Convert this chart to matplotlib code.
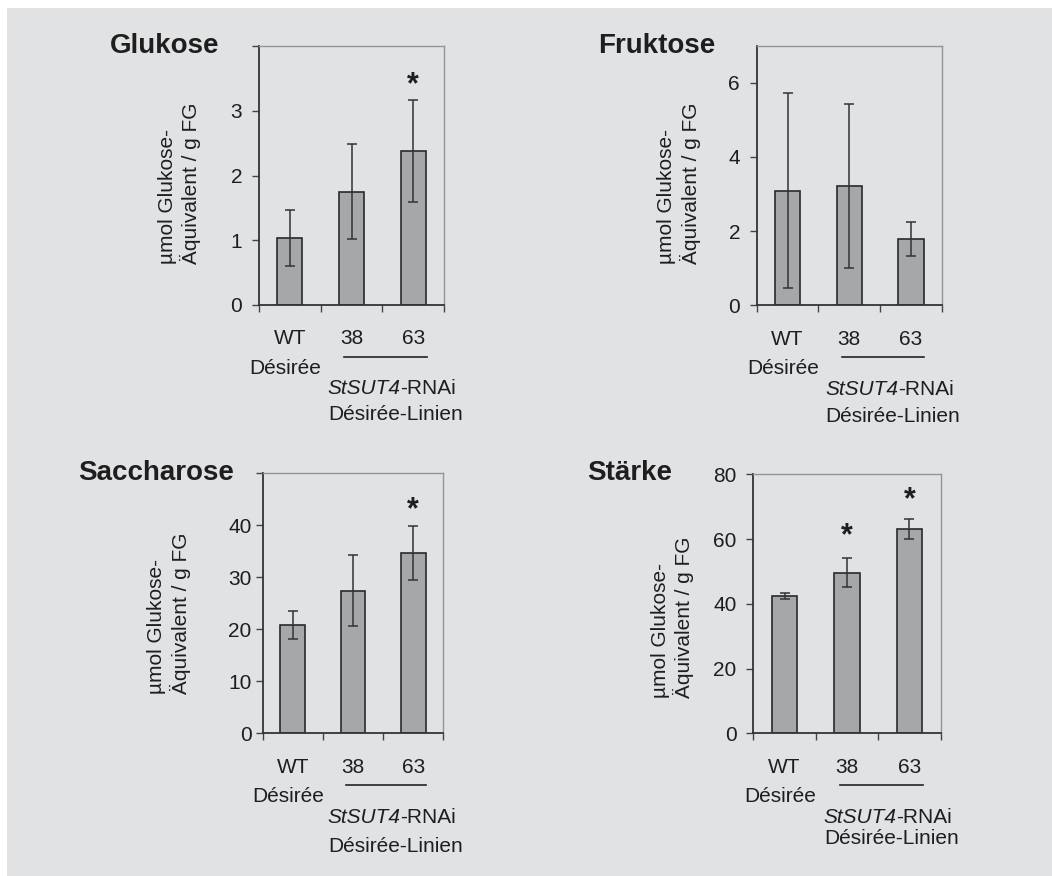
import matplotlib
matplotlib.use('Agg')
import matplotlib.pyplot as plt
from matplotlib.patches import Rectangle
from matplotlib.transforms import offset_copy
import numpy as np

plt.rcParams['font.family'] = ['Liberation Sans', 'DejaVu Sans']

W, H = 1052, 876

categories = ['WT', '38', '63']

glukose_mean = [1.04, 1.75, 2.38]
glukose_err = [0.43, 0.73, 0.79]
glukose_stars = [None, None, 3.5]

fruktose_mean = [3.09, 3.22, 1.78]
fruktose_err = [2.63, 2.22, 0.46]
fruktose_stars = [None, None, None]

saccharose_mean = [20.8, 27.4, 34.7]
saccharose_err = [2.7, 6.85, 5.15]
saccharose_stars = [None, None, 44.2]

staerke_mean = [42.4, 49.6, 63.1]
staerke_err = [1.0, 4.45, 2.95]
staerke_stars = [None, 63.0, 74.1]

ylabel = 'µmol Glukose-\nÄquivalent / g FG'

BG = '#e1e2e4'
BAR = '#a5a7a9'
DARK = '#2a2a2a'
TXT = '#1e1e1e'


def panel(fig, box, title, title_pos, ylab_pos, mean, err, stars,
          ymax, ticks, shown, pad, linien_off):
    l, t, r, b = box
    ax = fig.add_axes([l / W, 1 - b / H, (r - l) / W, (b - t) / H])
    ax.set_facecolor('none')
    x = np.arange(len(mean)) + 0.5
    ax.bar(x, mean, width=0.41, yerr=err, color=BAR, edgecolor=DARK,
           linewidth=1.2, zorder=2,
           error_kw=dict(ecolor='#333333', elinewidth=1.1, capsize=3.5,
                         capthick=1.1, zorder=3))
    ax.set_xlim(0, 3)
    ax.set_ylim(0, ymax)
    ax.set_xticks([0, 1, 2, 3])
    ax.set_xticklabels([])
    ax.set_yticks(ticks)
    ax.set_yticklabels([str(v) if v in shown else '' for v in ticks])
    ax.tick_params(axis='both', direction='out', length=5, width=1.0,
                   color='#444444', labelsize=15, labelcolor=TXT)
    ax.tick_params(axis='y', pad=pad)
    for s in ['left', 'bottom']:
        ax.spines[s].set_color('#333333')
        ax.spines[s].set_linewidth(1.3)
    for s in ['top', 'right']:
        ax.spines[s].set_color('#959595')
        ax.spines[s].set_linewidth(1.0)

    for xi, s in zip(x, stars):
        if s is not None:
            ax.annotate('*', xy=(xi, s), xytext=(0, -7),
                        textcoords='offset pixels', ha='center', va='center',
                        fontsize=22, fontweight='bold', color=TXT)

    tr = ax.get_xaxis_transform()
    for xi, c in zip(x, categories):
        ax.text(xi, 0, c, transform=offset_copy(tr, fig=fig, y=-34, units='dots'),
                ha='center', va='center', fontsize=15, color=TXT)
    ax.plot([1.38, 2.72], [0, 0], color='#222222', lw=1.2, clip_on=False,
            transform=offset_copy(tr, fig=fig, y=-52, units='dots'))
    ax.text(0.43, 0, 'Désirée', transform=offset_copy(tr, fig=fig, y=-63, units='dots'),
            ha='center', va='center', fontsize=15, color=TXT)
    # StSUT4 in italics, "-RNAi" upright, joined at the same anchor
    rna_tr = offset_copy(tr, fig=fig, y=-84, units='dots')
    ax.text(2.29, 0, 'StSUT4', transform=rna_tr, ha='right', va='center',
            fontsize=15, fontstyle='italic', color=TXT)
    ax.text(2.29, 0, '-RNAi', transform=rna_tr, ha='left', va='center',
            fontsize=15, color=TXT)
    ax.text(2.21, 0, 'Désirée-Linien',
            transform=offset_copy(tr, fig=fig, y=-linien_off, units='dots'),
            ha='center', va='center', fontsize=15, color=TXT)

    fig.text(title_pos[0] / W, 1 - title_pos[1] / H, title, fontsize=20,
             fontweight='bold', va='baseline', ha='left', color=TXT)
    fig.text(ylab_pos[0] / W, 1 - ylab_pos[1] / H, ylabel, rotation=90,
             ha='center', va='center', multialignment='left', fontsize=15,
             color=TXT)
    return ax


fig = plt.figure(figsize=(W / 100, H / 100), dpi=100, facecolor='white')
fig.patches.append(Rectangle((7 / W, 0), 1 - 7 / W, 1 - 8 / H,
                             transform=fig.transFigure, facecolor=BG,
                             edgecolor='none', zorder=-10))

panel(fig, (259, 46, 444, 305), 'Glukose', (110, 53), (179.5, 183),
      glukose_mean, glukose_err, glukose_stars,
      4, [0, 1, 2, 3, 4], [0, 1, 2, 3], 7, 110)
panel(fig, (756.7, 45.7, 941.7, 305.3), 'Fruktose', (598, 53), (679, 183),
      fruktose_mean, fruktose_err, fruktose_stars,
      7, [0, 2, 4, 6], [0, 2, 4, 6], 7, 111)
panel(fig, (262.7, 473.3, 443.3, 733.3), 'Saccharose', (78, 480), (169, 613),
      saccharose_mean, saccharose_err, saccharose_stars,
      50, [0, 10, 20, 30, 40, 50], [0, 10, 20, 30, 40], 3, 113)
panel(fig, (753.3, 474.3, 940.7, 733.3), 'Stärke', (587, 480), (672.5, 617),
      staerke_mean, staerke_err, staerke_stars,
      80, [0, 20, 40, 60, 80], [0, 20, 40, 60, 80], 7, 105)

fig.savefig('out.png', dpi=100, facecolor=fig.get_facecolor())
